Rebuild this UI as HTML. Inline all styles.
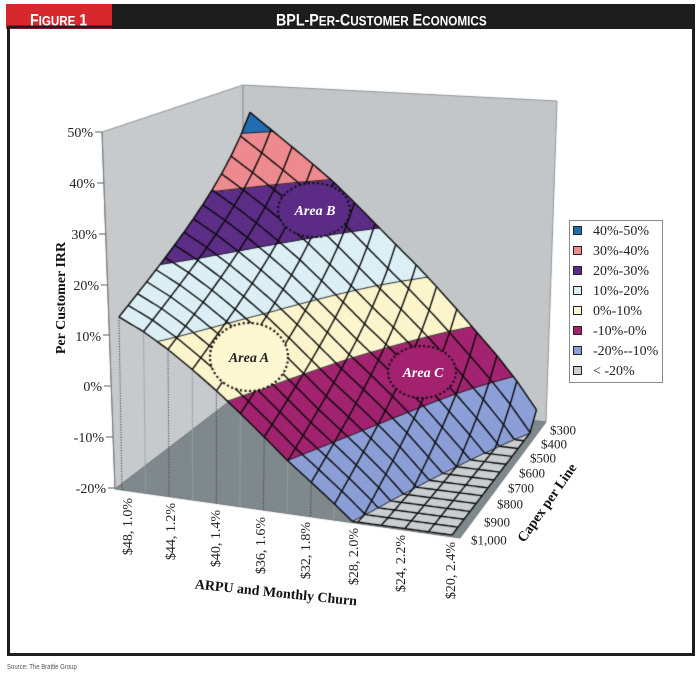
<!DOCTYPE html>
<html>
<head>
<meta charset="utf-8">
<style>
html,body{margin:0;padding:0;background:#fff;}
body{width:700px;height:675px;position:relative;overflow:hidden;font-family:"Liberation Serif",serif;}
#cv{position:absolute;left:0;top:0;width:700px;height:675px;}
#ov{position:absolute;left:0;top:0;width:700px;height:675px;}
</style>
</head>
<body>
<canvas id="cv" width="700" height="675"></canvas>
<svg id="ov" width="700" height="675" viewBox="0 0 700 675" xmlns="http://www.w3.org/2000/svg">
  <!-- header -->
  <rect x="6" y="4" width="106" height="25" fill="#d7282e"/>
  <rect x="112" y="4" width="583" height="25" fill="#1c1c1c"/>
  <g font-family="Liberation Sans, sans-serif" font-weight="bold" fill="#ffffff">
    <text transform="translate(30,25.5) scale(0.83 1)"><tspan font-size="17">F</tspan><tspan font-size="14">IGURE</tspan><tspan font-size="17"> 1</tspan></text>
    <text transform="translate(276,25.5) scale(0.84 1)"><tspan font-size="17">BPL-P</tspan><tspan font-size="14">ER</tspan><tspan font-size="17">-C</tspan><tspan font-size="14">USTOMER</tspan><tspan font-size="17"> E</tspan><tspan font-size="14">CONOMICS</tspan></text>
  </g>
  <!-- frame -->
  <rect x="8.5" y="27" width="685" height="627.5" fill="none" stroke="#1e1e1e" stroke-width="3"/>
  <text transform="translate(7,669) scale(0.8 1)" font-family="Liberation Sans, sans-serif" font-size="7.5" fill="#555">Source: The Brattle Group</text>

  <!-- Y axis tick labels -->
  <g font-family="Liberation Serif, serif" font-size="14" fill="#222" text-anchor="end">
    <text x="93" y="137">50%</text>
    <text x="95" y="188">40%</text>
    <text x="97" y="239">30%</text>
    <text x="99" y="290">20%</text>
    <text x="101" y="341">10%</text>
    <text x="102" y="391">0%</text>
    <text x="104" y="442">-10%</text>
    <text x="106" y="493">-20%</text>
  </g>
  <g stroke="#666" stroke-width="1">
    <line x1="95" y1="132" x2="102" y2="132"/>
    <line x1="97" y1="183" x2="104" y2="183"/>
    <line x1="99" y1="234" x2="106" y2="234"/>
    <line x1="101" y1="285" x2="108" y2="285"/>
    <line x1="103" y1="335" x2="110" y2="335"/>
    <line x1="104" y1="386" x2="111" y2="386"/>
    <line x1="106" y1="437" x2="113" y2="437"/>
    <line x1="108" y1="488" x2="115" y2="488"/>
  </g>
  <text transform="translate(65,298) rotate(-90)" text-anchor="middle" font-family="Liberation Serif, serif" font-weight="bold" font-size="14" fill="#111">Per Customer IRR</text>

  <!-- X axis labels -->
  <g font-family="Liberation Serif, serif" font-size="14" fill="#222" text-anchor="end">
    <text transform="translate(132,498) rotate(-90)">$48, 1.0%</text>
    <text transform="translate(175,503) rotate(-90)">$44, 1.2%</text>
    <text transform="translate(220,510) rotate(-90)">$40, 1.4%</text>
    <text transform="translate(265,517) rotate(-90)">$36, 1.6%</text>
    <text transform="translate(310,522) rotate(-90)">$32, 1.8%</text>
    <text transform="translate(358,528) rotate(-90)">$28, 2.0%</text>
    <text transform="translate(405,535) rotate(-90)">$24, 2.2%</text>
    <text transform="translate(455,542) rotate(-90)">$20, 2.4%</text>
  </g>
  <text transform="translate(276,592) rotate(6)" y="5" text-anchor="middle" font-family="Liberation Serif, serif" font-weight="bold" font-size="14" fill="#111">ARPU and Monthly Churn</text>

  <!-- Capex labels -->
  <g font-family="Liberation Serif, serif" font-size="13" fill="#222">
    <text x="550" y="434.5">$300</text>
    <text x="541" y="448.5">$400</text>
    <text x="530" y="462.5">$500</text>
    <text x="519" y="477.5">$600</text>
    <text x="508" y="492.5">$700</text>
    <text x="497" y="508.5">$800</text>
    <text x="484" y="526.5">$900</text>
    <text x="471" y="544.5">$1,000</text>
  </g>
  <text transform="translate(546.5,502.5) rotate(-55)" y="5" text-anchor="middle" font-family="Liberation Serif, serif" font-weight="bold" font-size="14" fill="#111">Capex per Line</text>

  <!-- Legend -->
  <rect x="569.5" y="220.5" width="93" height="162" fill="#fff" stroke="#8a8a8a" stroke-width="1"/>
  <g stroke="#222" stroke-width="1">
    <rect x="573.5" y="226.5" width="8" height="8" fill="#1f6db3"/>
    <rect x="573.5" y="246.5" width="8" height="8" fill="#ef8a8f"/>
    <rect x="573.5" y="266.5" width="8" height="8" fill="#5b2b86"/>
    <rect x="573.5" y="286.5" width="8" height="8" fill="#dcf0f6"/>
    <rect x="573.5" y="306.5" width="8" height="8" fill="#fdf6cd"/>
    <rect x="573.5" y="326.5" width="8" height="8" fill="#a3216f"/>
    <rect x="573.5" y="346.5" width="8" height="8" fill="#8c9fd8"/>
    <rect x="573.5" y="366.5" width="8" height="8" fill="#cdd0d3"/>
  </g>
  <g font-family="Liberation Serif, serif" font-size="14" fill="#222">
    <text x="593" y="235">40%-50%</text>
    <text x="593" y="255">30%-40%</text>
    <text x="593" y="275">20%-30%</text>
    <text x="593" y="295">10%-20%</text>
    <text x="593" y="315">0%-10%</text>
    <text x="593" y="335">-10%-0%</text>
    <text x="593" y="355">-20%--10%</text>
    <text x="593" y="375">&lt; -20%</text>
  </g>

  <!-- Area labels -->
  <g font-family="Liberation Serif, serif" font-weight="bold" font-style="italic" font-size="14" text-anchor="middle">
    <text x="249" y="362" fill="#222">Area A</text>
    <text x="315" y="215" fill="#ffffff">Area B</text>
    <text x="423" y="377" fill="#ffffff">Area C</text>
  </g>
</svg>
<script>
(function(){
const cv=document.getElementById('cv');const ctx=cv.getContext('2d');
function poly(pts,fill,stroke){ctx.beginPath();pts.forEach((p,k)=>k?ctx.lineTo(p[0],p[1]):ctx.moveTo(p[0],p[1]));ctx.closePath();if(fill){ctx.fillStyle=fill;ctx.fill();}if(stroke){ctx.strokeStyle=stroke;ctx.lineWidth=1;ctx.stroke();}}
poly([[102,132],[243,85],[243,391],[115,489]],'#c6cacd','#8f9497');
poly([[243,85],[557,101],[546,422],[243,391]],'#c2c6c9','#8f9497');
poly([[115,489],[243,391],[546,422],[460,538]],'#7f898d','#6f777a');
ctx.strokeStyle='#777';ctx.lineWidth=1;ctx.beginPath();ctx.moveTo(102,132);ctx.lineTo(115,489);ctx.stroke();

const FL=[122,490],FR=[452,535],BL=[250,392],BR=[536,425];
const VFL=[-0.9,-50.9],VFR=[2.5,-53],VBL=[0,-43.7],VBR=[1.5,-45.9];
function bil(A,B,C,D,u,w){const a=(1-u)*(1-w),b=u*(1-w),c=(1-u)*w,d=u*w;return [A[0]*a+B[0]*b+C[0]*c+D[0]*d,A[1]*a+B[1]*b+C[1]*c+D[1]*d];}
function P(u,w,z){if(z<-20)z=-20;const f=bil(FL,FR,BL,BR,u,w),v=bil(VFL,VFR,VBL,VBR,u,w);const k=(z+20)/10;return [f[0]+k*v[0],f[1]+k*v[1]];}

const KU=[0,.1,.2,.3,.4,.5,.6,.7,.8,.9,1];
const KA=[14,10.7,6.05,1.05,-4.44,-10.05,-15,-20,-26,-32,-38];
const KB=[44,38.9,33.9,28.7,22.6,16.6,10.8,4.4,-2.1,-8.6,-16.7];
function interp(V,x){let i=Math.min(Math.floor(x*10),9);const t=(x-KU[i])/(KU[i+1]-KU[i]);return V[i]+(V[i+1]-V[i])*t;}
function h(w){return 0.4*w+0.6*((1000/(1000-700*w))-1)/(7/3);}
function Z(u,w){const a=interp(KA,u),b=interp(KB,u);return a+(b-a)*h(w);}
const N=14,S=3,M=N*S;
const G=[];for(let i=0;i<=N;i++){G[i]=[];for(let j=0;j<=N;j++)G[i][j]=Z(i/N,j/N);}
function zAt(u,w){let x=u*N,y=w*N;let i=Math.min(Math.floor(x),N-1),j=Math.min(Math.floor(y),N-1);let fx=x-i,fy=y-j;
 return G[i][j]*(1-fx)*(1-fy)+G[i+1][j]*fx*(1-fy)+G[i][j+1]*(1-fx)*fy+G[i+1][j+1]*fx*fy;}

for(let i=0;i<=N;i++){const u=i/N,z=zAt(u,0);if(z<=-20)continue;const a=P(u,0,-20),b=P(u,0,z);
 ctx.beginPath();ctx.moveTo(a[0],a[1]);ctx.lineTo(b[0],b[1]);
 if(i%2===0){ctx.setLineDash([1,1.6]);ctx.strokeStyle='#2a2a2a';ctx.lineWidth=1;}else{ctx.setLineDash([]);ctx.strokeStyle='#9aa1a4';ctx.lineWidth=0.8;}
 ctx.stroke();}
ctx.setLineDash([]);

const bands=[[-1e9,-20,'#cdd0d3'],[-20,-10,'#8c9fd8'],[-10,0,'#a3216f'],[0,10,'#fdf6cd'],[10,20,'#dcf0f6'],[20,30,'#5b2b86'],[30,40,'#ef8a8f'],[40,1e9,'#1f6db3']];
function clip(pl,t,above){const out=[];for(let k=0;k<pl.length;k++){const A=pl[k],B=pl[(k+1)%pl.length];const ain=above?A[2]>=t:A[2]<=t,bin=above?B[2]>=t:B[2]<=t;if(ain)out.push(A);if(ain!==bin){const s=(t-A[2])/(B[2]-A[2]);out.push([A[0]+(B[0]-A[0])*s,A[1]+(B[1]-A[1])*s,t]);}}return out;}
function tri(a,b,c){for(const bd of bands){let p=[a,b,c];p=clip(p,bd[0],true);if(p.length<3)continue;p=clip(p,bd[1],false);if(p.length<3)continue;
 ctx.beginPath();p.forEach((q,k)=>{const s=P(q[0],q[1],q[2]);k?ctx.lineTo(s[0],s[1]):ctx.moveTo(s[0],s[1]);});ctx.closePath();
 ctx.fillStyle=bd[2];ctx.fill();ctx.strokeStyle=bd[2];ctx.lineWidth=0.6;ctx.stroke();}}
const tris=[];
for(let sy=M-1;sy>=0;sy--){for(let sx=0;sx<M;sx++){const u0=sx/M,u1=(sx+1)/M,w0=sy/M,w1=(sy+1)/M;
 const A=[u0,w0,zAt(u0,w0)],B=[u1,w0,zAt(u1,w0)],C=[u1,w1,zAt(u1,w1)],D=[u0,w1,zAt(u0,w1)];
 tri(A,B,C);tri(A,C,D);tris.push([A,B,C],[A,C,D]);}}
ctx.strokeStyle='#151515';ctx.lineWidth=0.9;
const TH=[-20,-10,0,10,20,30,40];
ctx.beginPath();
for(const t3 of tris){for(const t of TH){const pts=[];for(let k=0;k<3;k++){const A=t3[k],B=t3[(k+1)%3];if((A[2]-t)*(B[2]-t)<0){const s=(t-A[2])/(B[2]-A[2]);pts.push(P(A[0]+(B[0]-A[0])*s,A[1]+(B[1]-A[1])*s,t));}}
 if(pts.length===2){ctx.moveTo(pts[0][0],pts[0][1]);ctx.lineTo(pts[1][0],pts[1][1]);}}}
ctx.stroke();
ctx.strokeStyle='#0a0a0a';ctx.lineWidth=1.4;ctx.lineJoin='round';
const R=N*10;
for(let i=0;i<=N;i++){ctx.beginPath();for(let k=0;k<=R;k++){const u=i/N,w=k/R;const s=P(u,w,zAt(u,w));k?ctx.lineTo(s[0],s[1]):ctx.moveTo(s[0],s[1]);}ctx.stroke();}
for(let j=0;j<=N;j++){ctx.beginPath();for(let k=0;k<=R;k++){const u=k/R,w=j/N;const s=P(u,w,zAt(u,w));k?ctx.lineTo(s[0],s[1]):ctx.moveTo(s[0],s[1]);}ctx.stroke();}

function ell(cx,cy,rx,ry,fill){ctx.beginPath();ctx.ellipse(cx,cy,rx,ry,0,0,Math.PI*2);ctx.fillStyle=fill;ctx.fill();
 ctx.setLineDash([2,2.6]);ctx.lineWidth=2.2;ctx.strokeStyle='#111';ctx.stroke();ctx.setLineDash([]);}
ell(249,357,39,34,'#fdf7d2');
ell(314,210,36,27,'#5b2b86');
ell(422,372,34,26,'#a3216f');
})();
</script>
</body>
</html>
